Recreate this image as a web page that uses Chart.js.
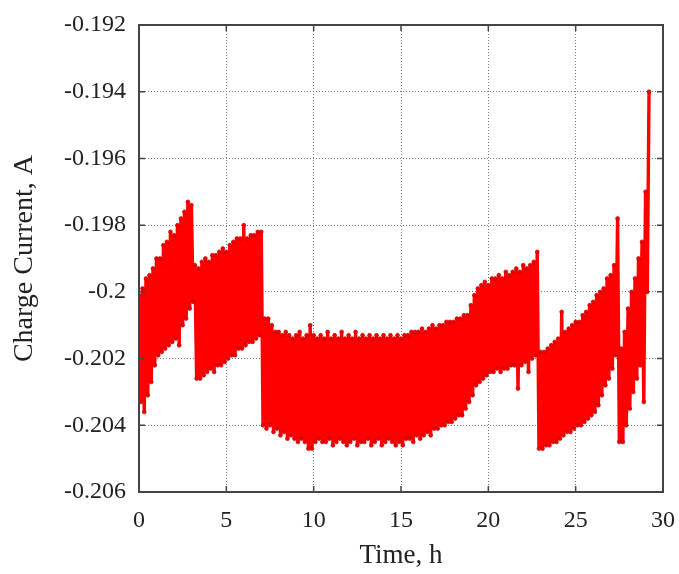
<!DOCTYPE html>
<html>
<head>
<meta charset="utf-8">
<script src="https://cdn.jsdelivr.net/npm/chart.js@4.4.1/dist/chart.umd.min.js"></script>
<style>
  html, body { margin: 0; padding: 0; background: #fff; }
  #wrap { width: 679px; height: 574px; }
</style>
</head>
<body>
<div id="wrap"><canvas id="myChart" width="679" height="574"></canvas></div>
<script>
// time, h (one reading every 0.1 h)
var times = [
  0.0,0.1,0.2,0.3,0.4,0.5,0.6,0.7,0.8,0.9,
  1.0,1.1,1.2,1.3,1.4,1.5,1.6,1.7,1.8,1.9,
  2.0,2.1,2.2,2.3,2.4,2.5,2.6,2.7,2.8,2.9,
  3.0,3.1,3.2,3.3,3.4,3.5,3.6,3.7,3.8,3.9,
  4.0,4.1,4.2,4.3,4.4,4.5,4.6,4.7,4.8,4.9,
  5.0,5.1,5.2,5.3,5.4,5.5,5.6,5.7,5.8,5.9,
  6.0,6.1,6.2,6.3,6.4,6.5,6.6,6.7,6.8,6.9,
  7.0,7.1,7.2,7.3,7.4,7.5,7.6,7.7,7.8,7.9,
  8.0,8.1,8.2,8.3,8.4,8.5,8.6,8.7,8.8,8.9,
  9.0,9.1,9.2,9.3,9.4,9.5,9.6,9.7,9.8,9.9,
  10.0,10.1,10.2,10.3,10.4,10.5,10.6,10.7,10.8,10.9,
  11.0,11.1,11.2,11.3,11.4,11.5,11.6,11.7,11.8,11.9,
  12.0,12.1,12.2,12.3,12.4,12.5,12.6,12.7,12.8,12.9,
  13.0,13.1,13.2,13.3,13.4,13.5,13.6,13.7,13.8,13.9,
  14.0,14.1,14.2,14.3,14.4,14.5,14.6,14.7,14.8,14.9,
  15.0,15.1,15.2,15.3,15.4,15.5,15.6,15.7,15.8,15.9,
  16.0,16.1,16.2,16.3,16.4,16.5,16.6,16.7,16.8,16.9,
  17.0,17.1,17.2,17.3,17.4,17.5,17.6,17.7,17.8,17.9,
  18.0,18.1,18.2,18.3,18.4,18.5,18.6,18.7,18.8,18.9,
  19.0,19.1,19.2,19.3,19.4,19.5,19.6,19.7,19.8,19.9,
  20.0,20.1,20.2,20.3,20.4,20.5,20.6,20.7,20.8,20.9,
  21.0,21.1,21.2,21.3,21.4,21.5,21.6,21.7,21.8,21.9,
  22.0,22.1,22.2,22.3,22.4,22.5,22.6,22.7,22.8,22.9,
  23.0,23.1,23.2,23.3,23.4,23.5,23.6,23.7,23.8,23.9,
  24.0,24.1,24.2,24.3,24.4,24.5,24.6,24.7,24.8,24.9,
  25.0,25.1,25.2,25.3,25.4,25.5,25.6,25.7,25.8,25.9,
  26.0,26.1,26.2,26.3,26.4,26.5,26.6,26.7,26.8,26.9,
  27.0,27.1,27.2,27.3,27.4,27.5,27.6,27.7,27.8,27.9,
  28.0,28.1,28.2,28.3,28.4,28.5,28.6,28.7,28.8,28.9,
  29.0,29.1,29.2
];

// charge current, A
var current = [
  -0.2001,-0.2033,-0.1999,-0.2036,-0.1996,-0.2031,-0.1995,-0.2027,-0.1993,-0.2022,
  -0.1990,-0.2019,-0.1990,-0.2018,-0.1986,-0.2017,-0.1985,-0.2016,-0.1982,-0.2015,
  -0.1983,-0.2014,-0.1980,-0.2016,-0.1978,-0.2010,-0.1976,-0.2008,-0.1973,-0.2005,
  -0.1974,-0.2003,-0.1992,-0.2026,-0.1993,-0.2026,-0.1991,-0.2025,-0.1990,-0.2024,
  -0.1991,-0.2023,-0.1989,-0.2024,-0.1989,-0.2022,-0.1988,-0.2022,-0.1987,-0.2021,
  -0.1988,-0.2020,-0.1986,-0.2019,-0.1985,-0.2019,-0.1984,-0.2017,-0.1984,-0.2017,
  -0.1980,-0.2016,-0.1984,-0.2015,-0.1983,-0.2015,-0.1983,-0.2014,-0.1982,-0.2013,
  -0.1982,-0.2040,-0.2008,-0.2041,-0.2008,-0.2040,-0.2010,-0.2042,-0.2012,-0.2041,
  -0.2012,-0.2043,-0.2013,-0.2042,-0.2012,-0.2044,-0.2013,-0.2043,-0.2014,-0.2044,
  -0.2013,-0.2045,-0.2012,-0.2044,-0.2014,-0.2045,-0.2013,-0.2047,-0.2010,-0.2047,
  -0.2013,-0.2045,-0.2014,-0.2044,-0.2013,-0.2045,-0.2014,-0.2045,-0.2012,-0.2044,
  -0.2014,-0.2046,-0.2013,-0.2045,-0.2014,-0.2044,-0.2012,-0.2045,-0.2014,-0.2046,
  -0.2013,-0.2045,-0.2014,-0.2044,-0.2012,-0.2046,-0.2014,-0.2045,-0.2013,-0.2045,
  -0.2014,-0.2044,-0.2013,-0.2046,-0.2014,-0.2045,-0.2013,-0.2044,-0.2014,-0.2046,
  -0.2013,-0.2045,-0.2014,-0.2044,-0.2013,-0.2045,-0.2014,-0.2046,-0.2013,-0.2045,
  -0.2014,-0.2046,-0.2013,-0.2044,-0.2013,-0.2044,-0.2012,-0.2045,-0.2012,-0.2043,
  -0.2012,-0.2044,-0.2011,-0.2043,-0.2012,-0.2042,-0.2011,-0.2043,-0.2010,-0.2041,
  -0.2011,-0.2041,-0.2010,-0.2040,-0.2010,-0.2040,-0.2009,-0.2039,-0.2009,-0.2039,
  -0.2009,-0.2038,-0.2008,-0.2037,-0.2008,-0.2037,-0.2007,-0.2035,-0.2007,-0.2033,
  -0.2004,-0.2031,-0.2001,-0.2028,-0.1999,-0.2027,-0.1998,-0.2026,-0.1997,-0.2025,
  -0.1998,-0.2024,-0.1996,-0.2024,-0.1996,-0.2023,-0.1995,-0.2024,-0.1996,-0.2023,
  -0.1994,-0.2023,-0.1995,-0.2022,-0.1994,-0.2022,-0.1993,-0.2029,-0.1994,-0.2022,
  -0.1992,-0.2021,-0.1993,-0.2024,-0.1992,-0.2020,-0.1991,-0.2019,-0.1988,-0.2047,
  -0.2018,-0.2047,-0.2018,-0.2046,-0.2017,-0.2046,-0.2016,-0.2045,-0.2015,-0.2045,
  -0.2014,-0.2044,-0.2006,-0.2043,-0.2012,-0.2042,-0.2011,-0.2042,-0.2010,-0.2041,
  -0.2009,-0.2040,-0.2009,-0.2040,-0.2007,-0.2039,-0.2006,-0.2038,-0.2004,-0.2037,
  -0.2003,-0.2036,-0.2001,-0.2034,-0.2000,-0.2031,-0.1999,-0.2028,-0.1996,-0.2026,
  -0.1995,-0.2023,-0.1992,-0.2019,-0.1978,-0.2045,-0.2017,-0.2045,-0.2012,-0.2040,
  -0.2005,-0.2035,-0.2000,-0.2030,-0.1996,-0.2026,-0.1990,-0.2022,-0.1985,-0.2033,
  -0.1970,-0.2000,-0.1940
];

var xTicks = [0, 5, 10, 15, 20, 25, 30];
var yTicks = [-0.206, -0.204, -0.202, -0.2, -0.198, -0.196, -0.194, -0.192];

var points = times.map(function (t, i) { return { x: t, y: current[i] }; });

// frame on all four sides + small inward tick marks, gnuplot style
var frameTicks = {
  id: "frameTicks",
  afterDraw: function (chart) {
    var ctx = chart.ctx, a = chart.chartArea;
    var sx = chart.scales.x, sy = chart.scales.y;
    ctx.save();
    ctx.strokeStyle = "#444";
    ctx.lineWidth = 1.5;
    ctx.beginPath();
    xTicks.forEach(function (v) {
      var px = sx.getPixelForValue(v);
      ctx.moveTo(px, a.bottom); ctx.lineTo(px, a.bottom - 6);
      ctx.moveTo(px, a.top); ctx.lineTo(px, a.top + 6);
    });
    yTicks.forEach(function (v) {
      var py = sy.getPixelForValue(v);
      ctx.moveTo(a.left, py); ctx.lineTo(a.left + 6, py);
      ctx.moveTo(a.right, py); ctx.lineTo(a.right - 6, py);
    });
    ctx.stroke();
    ctx.lineWidth = 2;
    ctx.strokeRect(a.left, a.top, a.right - a.left, a.bottom - a.top);
    ctx.restore();
  }
};

var serif = "'Liberation Serif', 'DejaVu Serif', serif";

new Chart("myChart", {
  type: "line",
  data: {
    datasets: [{
      data: points,
      borderColor: "#ff0000",
      borderWidth: 3.4,
      pointRadius: 1.9,
      pointBackgroundColor: "#f00000",
      pointBorderColor: "#c80000",
      pointBorderWidth: 0.7,
      tension: 0
    }]
  },
  options: {
    responsive: false,
    animation: false,
    layout: { padding: { left: 0, right: 16, top: 25, bottom: 0 } },
    plugins: { legend: { display: false }, tooltip: { enabled: false } },
    scales: {
      x: {
        type: "linear",
        min: 0, max: 30,
        afterBuildTicks: function (s) { s.ticks = xTicks.map(function (v) { return { value: v }; }); },
        afterFit: function (s) { s.height = 82; s.paddingLeft = 0; s.paddingRight = 0; },
        ticks: { color: "#222", padding: 14, font: { family: serif, size: 24 } },
        grid: { color: "#777", drawTicks: false },
        border: { display: false, dash: [1, 2] },
        title: { display: true, text: "Time, h", color: "#222", padding: { top: 0, bottom: 2 }, font: { family: serif, size: 27 } }
      },
      y: {
        type: "linear",
        min: -0.206, max: -0.192,
        afterBuildTicks: function (s) { s.ticks = yTicks.map(function (v) { return { value: v }; }); },
        afterFit: function (s) { s.width = 139; s.paddingTop = 0; s.paddingBottom = 0; },
        ticks: {
          color: "#222", padding: 13, font: { family: serif, size: 24 },
          callback: function (v) { return String(parseFloat(v.toFixed(3))); }
        },
        grid: { color: "#777", drawTicks: false },
        border: { display: false, dash: [1, 2] },
        title: { display: true, text: "Charge Current, A", color: "#222", padding: { top: 8, bottom: 0 }, font: { family: serif, size: 28 } }
      }
    }
  },
  plugins: [frameTicks]
});
</script>
</body>
</html>
